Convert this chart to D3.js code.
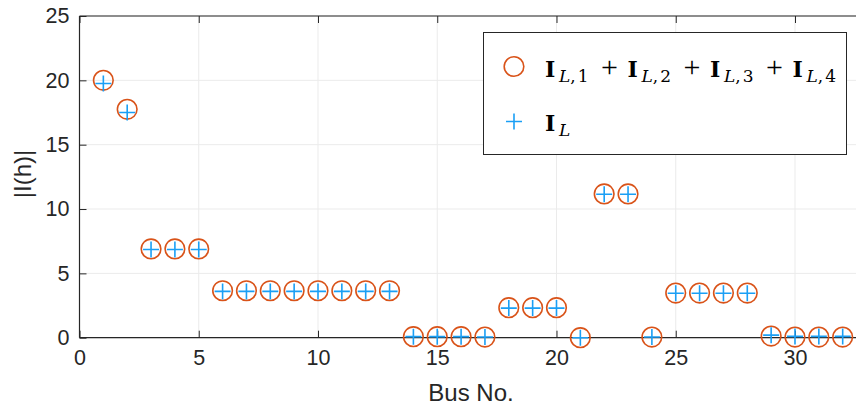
<!DOCTYPE html>
<html><head><meta charset="utf-8">
<script src="https://cdn.jsdelivr.net/npm/d3@7"></script>
<style>body{margin:0;background:#fff}svg{display:block}</style>
</head><body>
<svg id="c" width="856" height="409"></svg>
<script>
const buses = d3.range(1, 33);
const sumValues = [20.0, 17.75, 6.9, 6.9, 6.9, 3.65, 3.65, 3.65, 3.65, 3.65, 3.65, 3.65, 3.65,
  0.08, 0.08, 0.08, 0.05, 2.33, 2.33, 2.33, 0.0, 11.17, 11.17, 0.05, 3.47, 3.47, 3.47, 3.47,
  0.13, 0.05, 0.05, 0.05];
const totalValues = [19.75, 17.5, 6.85, 6.85, 6.85, 3.6, 3.6, 3.6, 3.6, 3.6, 3.6, 3.6, 3.6,
  0.08, 0.08, 0.08, 0.05, 2.3, 2.3, 2.3, 0.0, 11.15, 11.15, 0.05, 3.45, 3.45, 3.45, 3.45,
  0.2, 0.1, 0.1, 0.1];
const xTicks = [0, 5, 10, 15, 20, 25, 30];
const yTicks = [0, 5, 10, 15, 20, 25];
const legendTerms = ["1", "2", "3", "4"];

const svg = d3.select("#c");
const L = 79.5, R = 857, T = 16, B = 337.7;
const x = d3.scaleLinear().domain([0, 32.6]).range([L, R]);
const y = d3.scaleLinear().domain([0, 25]).range([B, T]);
const orange = "#D95319", blue = "#1a9ff5", axc = "#262626";

// grid
const g = svg.append("g");
g.selectAll(".gx").data(xTicks).join("line")
  .attr("x1", d => x(d)).attr("x2", d => x(d)).attr("y1", T).attr("y2", B)
  .attr("stroke", "#ebebeb").attr("stroke-width", 1);
g.selectAll(".gy").data(yTicks).join("line")
  .attr("x1", L).attr("x2", R).attr("y1", d => y(d)).attr("y2", d => y(d))
  .attr("stroke", "#ebebeb").attr("stroke-width", 1);

// axes
const font = "'Liberation Sans', Arial, Helvetica, sans-serif";
const xa = svg.append("g").attr("transform", `translate(0,${B})`)
  .call(d3.axisBottom(x).tickValues(xTicks).tickSize(-7).tickPadding(12).tickFormat(d3.format("d")));
const xt = svg.append("g").attr("transform", `translate(0,${T})`)
  .call(d3.axisTop(x).tickValues(xTicks).tickSize(-7).tickFormat(""));
const ya = svg.append("g").attr("transform", `translate(${L},0)`)
  .call(d3.axisLeft(y).tickValues(yTicks).tickSize(-7).tickPadding(10).tickFormat(d3.format("d")));
[xa, xt, ya].forEach(a => {
  a.select(".domain").attr("stroke", axc).attr("stroke-width", 1.2);
  a.selectAll(".tick line").attr("stroke", axc).attr("stroke-width", 1);
  a.selectAll("text").attr("fill", axc).style("font-family", font).style("font-size", "21.5px");
});
ya.select(".domain").attr("d", `M0,${B}V${T}`);
xa.select(".domain").attr("d", `M${L},0H${R}`);
xt.select(".domain").attr("d", `M${L},0H${R}`);

// labels
svg.append("text").attr("x", 471).attr("y", 401).attr("text-anchor", "middle")
  .attr("fill", axc).style("font-family", font).style("font-size", "24px").text("Bus No.");
svg.append("text").attr("transform", "translate(31,174) rotate(-90)").attr("text-anchor", "middle")
  .attr("fill", axc).style("font-family", font).style("font-size", "24px").text("|I(h)|");

// markers
svg.append("g").selectAll("circle").data(buses).join("circle")
  .attr("cx", d => x(d)).attr("cy", (d, i) => y(sumValues[i])).attr("r", 9.8)
  .attr("fill", "none").attr("stroke", orange).attr("stroke-width", 1.6);
const plus = (sel, s) => sel.append("path")
  .attr("d", `M${-s},0H${s}M0,${-s}V${s}`).attr("stroke", blue).attr("stroke-width", 1.6).attr("fill", "none");
svg.append("g").selectAll("g").data(buses).join("g")
  .attr("transform", (d, i) => `translate(${x(d)},${y(totalValues[i])})`)
  .each(function () { plus(d3.select(this), 8); });

// legend
const lg = svg.append("g");
lg.append("rect").attr("x", 483.5).attr("y", 32.5).attr("width", 363).attr("height", 122)
  .attr("fill", "#fff").attr("stroke", axc).attr("stroke-width", 1);
lg.append("circle").attr("cx", 514).attr("cy", 66.5).attr("r", 9.8)
  .attr("fill", "none").attr("stroke", orange).attr("stroke-width", 1.6);
plus(lg.append("g").attr("transform", "translate(514,121.5)"), 8);

const serif = "'DejaVu Serif', 'Liberation Serif', serif";
function term(x0, base, sub) {
  lg.append("text").attr("x", x0).attr("y", base).attr("fill", "#000")
    .style("font-family", serif).style("font-weight", "bold").style("font-size", "22px").text("I");
  const t = lg.append("text").attr("x", x0 + 14).attr("y", base + 5).attr("fill", "#000")
    .style("font-family", serif).style("font-size", "17px");
  t.append("tspan").style("font-style", "italic").text("L");
  if (sub) {
    t.append("tspan").text(",");
    t.append("tspan").attr("dx", 2).text(sub);
  }
}
legendTerms.forEach((k, i) => {
  const x0 = 545 + i * 82.5;
  term(x0, 77, k);
  if (i < legendTerms.length - 1)
    lg.append("text").attr("x", x0 + 64.5).attr("y", 77).attr("text-anchor", "middle").attr("fill", "#000")
      .style("font-family", "'Liberation Serif', serif").style("font-size", "30px").text("+");
});
term(545, 131, null);
</script>
</body></html>
